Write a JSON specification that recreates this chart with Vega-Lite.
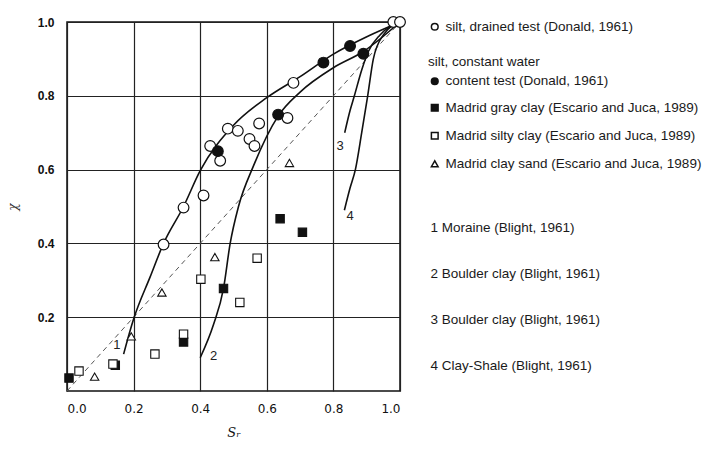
{
  "$schema": "https://vega.github.io/schema/vega-lite/v6.json",
  "autosize": {"type": "none"},
  "padding": {"left": 67, "top": 22, "right": 306, "bottom": 59},
  "width": 333,
  "height": 369,
  "background": "white",
  "config": {
    "view": {"stroke": "#111", "strokeWidth": 1.5},
    "axis": {"grid": true, "gridColor": "#222", "gridWidth": 1.2, "gridOpacity": 1, "domain": false, "ticks": false},
    "legend": {"title": null, "labelFont": "Liberation Sans", "labelFontSize": 13.5, "labelColor": "#1a1a1a", "labelLimit": 400, "symbolSize": 45}
  },
  "datasets": {
    "drained": [
      {"x": 0.98, "y": 1.0, "series": "silt, drained test (Donald, 1961)"},
      {"x": 1.0, "y": 1.0, "series": "silt, drained test (Donald, 1961)"},
      {"x": 0.68, "y": 0.835, "series": "silt, drained test (Donald, 1961)"},
      {"x": 0.662, "y": 0.74, "series": "silt, drained test (Donald, 1961)"},
      {"x": 0.577, "y": 0.725, "series": "silt, drained test (Donald, 1961)"},
      {"x": 0.483, "y": 0.711, "series": "silt, drained test (Donald, 1961)"},
      {"x": 0.513, "y": 0.705, "series": "silt, drained test (Donald, 1961)"},
      {"x": 0.43, "y": 0.664, "series": "silt, drained test (Donald, 1961)"},
      {"x": 0.46, "y": 0.624, "series": "silt, drained test (Donald, 1961)"},
      {"x": 0.548, "y": 0.683, "series": "silt, drained test (Donald, 1961)"},
      {"x": 0.563, "y": 0.664, "series": "silt, drained test (Donald, 1961)"},
      {"x": 0.41, "y": 0.53, "series": "silt, drained test (Donald, 1961)"},
      {"x": 0.35, "y": 0.497, "series": "silt, drained test (Donald, 1961)"},
      {"x": 0.29, "y": 0.397, "series": "silt, drained test (Donald, 1961)"}
    ],
    "constant": [
      {"x": 0.85, "y": 0.935, "series": "content test (Donald, 1961)"},
      {"x": 0.89, "y": 0.914, "series": "content test (Donald, 1961)"},
      {"x": 0.77, "y": 0.89, "series": "content test (Donald, 1961)"},
      {"x": 0.634, "y": 0.749, "series": "content test (Donald, 1961)"},
      {"x": 0.453, "y": 0.65, "series": "content test (Donald, 1961)"}
    ],
    "madrid": [
      {"x": 0.64, "y": 0.467, "series": "Madrid gray clay (Escario and Juca, 1989)"},
      {"x": 0.707, "y": 0.43, "series": "Madrid gray clay (Escario and Juca, 1989)"},
      {"x": 0.47, "y": 0.278, "series": "Madrid gray clay (Escario and Juca, 1989)"},
      {"x": 0.35, "y": 0.133, "series": "Madrid gray clay (Escario and Juca, 1989)"},
      {"x": 0.145, "y": 0.07, "series": "Madrid gray clay (Escario and Juca, 1989)"},
      {"x": 0.006, "y": 0.035, "series": "Madrid gray clay (Escario and Juca, 1989)"},
      {"x": 0.571, "y": 0.36, "series": "Madrid silty clay (Escario and Juca, 1989)"},
      {"x": 0.402, "y": 0.303, "series": "Madrid silty clay (Escario and Juca, 1989)"},
      {"x": 0.519, "y": 0.24, "series": "Madrid silty clay (Escario and Juca, 1989)"},
      {"x": 0.35, "y": 0.154, "series": "Madrid silty clay (Escario and Juca, 1989)"},
      {"x": 0.264, "y": 0.1, "series": "Madrid silty clay (Escario and Juca, 1989)"},
      {"x": 0.138, "y": 0.073, "series": "Madrid silty clay (Escario and Juca, 1989)"},
      {"x": 0.036, "y": 0.054, "series": "Madrid silty clay (Escario and Juca, 1989)"},
      {"x": 0.668, "y": 0.618, "series": "Madrid clay sand (Escario and Juca, 1989)"},
      {"x": 0.444, "y": 0.363, "series": "Madrid clay sand (Escario and Juca, 1989)"},
      {"x": 0.285, "y": 0.267, "series": "Madrid clay sand (Escario and Juca, 1989)"},
      {"x": 0.193, "y": 0.148, "series": "Madrid clay sand (Escario and Juca, 1989)"},
      {"x": 0.083, "y": 0.039, "series": "Madrid clay sand (Escario and Juca, 1989)"}
    ],
    "curves": [
      {"curve": "1 Moraine (Blight, 1961)", "x": 0.17, "y": 0.1},
      {"curve": "1 Moraine (Blight, 1961)", "x": 0.2, "y": 0.195},
      {"curve": "1 Moraine (Blight, 1961)", "x": 0.25, "y": 0.31},
      {"curve": "1 Moraine (Blight, 1961)", "x": 0.29, "y": 0.4},
      {"curve": "1 Moraine (Blight, 1961)", "x": 0.35, "y": 0.5},
      {"curve": "1 Moraine (Blight, 1961)", "x": 0.4, "y": 0.597},
      {"curve": "1 Moraine (Blight, 1961)", "x": 0.5, "y": 0.72},
      {"curve": "1 Moraine (Blight, 1961)", "x": 0.6, "y": 0.795},
      {"curve": "1 Moraine (Blight, 1961)", "x": 0.7, "y": 0.852},
      {"curve": "1 Moraine (Blight, 1961)", "x": 0.8, "y": 0.913},
      {"curve": "1 Moraine (Blight, 1961)", "x": 0.905, "y": 0.962},
      {"curve": "1 Moraine (Blight, 1961)", "x": 1.0, "y": 1.0},
      {"curve": "2 Boulder clay (Blight, 1961)", "x": 0.4, "y": 0.09},
      {"curve": "2 Boulder clay (Blight, 1961)", "x": 0.44, "y": 0.18},
      {"curve": "2 Boulder clay (Blight, 1961)", "x": 0.47, "y": 0.278},
      {"curve": "2 Boulder clay (Blight, 1961)", "x": 0.49, "y": 0.4},
      {"curve": "2 Boulder clay (Blight, 1961)", "x": 0.515, "y": 0.5},
      {"curve": "2 Boulder clay (Blight, 1961)", "x": 0.56, "y": 0.61},
      {"curve": "2 Boulder clay (Blight, 1961)", "x": 0.634, "y": 0.745},
      {"curve": "2 Boulder clay (Blight, 1961)", "x": 0.7, "y": 0.81},
      {"curve": "2 Boulder clay (Blight, 1961)", "x": 0.8, "y": 0.876},
      {"curve": "2 Boulder clay (Blight, 1961)", "x": 0.89, "y": 0.92},
      {"curve": "2 Boulder clay (Blight, 1961)", "x": 1.0, "y": 1.0},
      {"curve": "3 Boulder clay (Blight, 1961)", "x": 0.834, "y": 0.7},
      {"curve": "3 Boulder clay (Blight, 1961)", "x": 0.85, "y": 0.76},
      {"curve": "3 Boulder clay (Blight, 1961)", "x": 0.863, "y": 0.8},
      {"curve": "3 Boulder clay (Blight, 1961)", "x": 0.885, "y": 0.87},
      {"curve": "3 Boulder clay (Blight, 1961)", "x": 0.905, "y": 0.92},
      {"curve": "3 Boulder clay (Blight, 1961)", "x": 0.94, "y": 0.965},
      {"curve": "3 Boulder clay (Blight, 1961)", "x": 1.0, "y": 1.0},
      {"curve": "4 Clay-Shale (Blight, 1961)", "x": 0.833, "y": 0.49},
      {"curve": "4 Clay-Shale (Blight, 1961)", "x": 0.85, "y": 0.55},
      {"curve": "4 Clay-Shale (Blight, 1961)", "x": 0.866, "y": 0.6},
      {"curve": "4 Clay-Shale (Blight, 1961)", "x": 0.885, "y": 0.7},
      {"curve": "4 Clay-Shale (Blight, 1961)", "x": 0.903, "y": 0.8},
      {"curve": "4 Clay-Shale (Blight, 1961)", "x": 0.92, "y": 0.9},
      {"curve": "4 Clay-Shale (Blight, 1961)", "x": 0.95, "y": 0.965},
      {"curve": "4 Clay-Shale (Blight, 1961)", "x": 1.0, "y": 1.0}
    ],
    "curveLabels": [
      {"x": 0.15, "y": 0.125, "t": "1"},
      {"x": 0.44, "y": 0.095, "t": "2"},
      {"x": 0.82, "y": 0.663, "t": "3"},
      {"x": 0.85, "y": 0.475, "t": "4"}
    ],
    "diag": [
      {"x": 0, "y": 0},
      {"x": 1, "y": 1}
    ]
  },
  "encoding": {
    "x": {
      "field": "x", "type": "quantitative",
      "scale": {"domain": [0, 1], "nice": false},
      "axis": {"values": [0, 0.2, 0.4, 0.6, 0.8, 1.0], "format": ".1f", "labelPadding": 12, "labelFont": "DejaVu Sans", "labelFontSize": 12, "labelColor": "#111",
        "title": "Sᵣ", "titleFont": "DejaVu Serif", "titleFontStyle": "italic", "titleFontWeight": "normal", "titleFontSize": 13, "titlePadding": 12, "titleColor": "#111"}
    },
    "y": {
      "field": "y", "type": "quantitative",
      "scale": {"domain": [0, 1], "nice": false},
      "axis": {"values": [0.2, 0.4, 0.6, 0.8, 1.0], "format": ".1f", "labelPadding": 13, "labelFont": "Liberation Sans", "labelFontSize": 12, "labelFontWeight": "bold", "labelColor": "#111",
        "title": "χ", "titleFont": "DejaVu Serif", "titleFontStyle": "italic", "titleFontWeight": "normal", "titleFontSize": 12, "titlePadding": 18, "titleColor": "#333"}
    }
  },
  "layer": [
    {
      "data": {"name": "diag"},
      "mark": {"type": "line", "color": "#555", "strokeWidth": 1, "strokeDash": [5, 4]},
      "encoding": {}
    },
    {
      "data": {"name": "curves"},
      "mark": {"type": "line", "interpolate": "monotone", "strokeWidth": 1.6},
      "encoding": {
        "color": {
          "field": "curve", "type": "nominal",
          "scale": {"domain": ["1 Moraine (Blight, 1961)", "2 Boulder clay (Blight, 1961)", "3 Boulder clay (Blight, 1961)", "4 Clay-Shale (Blight, 1961)"], "range": ["#111", "#111", "#111", "#111"]},
          "legend": {"orient": "none", "legendX": 350, "legendY": 199, "symbolOpacity": 0, "symbolSize": 1, "labelOffset": 0, "rowPadding": 31}
        }
      }
    },
    {
      "data": {"name": "curveLabels"},
      "mark": {"type": "text", "font": "Liberation Sans", "fontSize": 13, "color": "#222"},
      "encoding": {"text": {"field": "t"}}
    },
    {
      "data": {"name": "drained"},
      "mark": {"type": "point", "filled": true, "fill": "white", "stroke": "#111", "strokeWidth": 1.2, "size": 115, "opacity": 1},
      "encoding": {
        "shape": {
          "field": "series", "type": "nominal",
          "scale": {"range": ["circle"]},
          "legend": {"orient": "none", "legendX": 361, "legendY": -2,
            "encode": {"symbols": {"update": {"fill": {"value": "white"}, "stroke": {"value": "#111"}, "strokeWidth": {"value": 1}}}}}
        }
      }
    },
    {
      "data": {"name": "constant"},
      "mark": {"type": "point", "filled": true, "fill": "#111", "stroke": "#111", "strokeWidth": 1.2, "size": 115, "opacity": 1},
      "encoding": {
        "shape": {
          "field": "series", "type": "nominal",
          "scale": {"range": ["circle"]},
          "legend": {"orient": "none", "legendX": 361, "legendY": 33,
            "title": "\u00a0\u00a0\u00a0\u00a0silt, constant water", "titleFont": "Liberation Sans", "titleFontSize": 13.5, "titleFontWeight": "normal", "titleColor": "#1a1a1a", "titlePadding": 6,
            "encode": {"symbols": {"update": {"fill": {"value": "#111"}, "stroke": {"value": "#111"}, "strokeWidth": {"value": 1}}}}}
        }
      }
    },
    {
      "data": {"name": "madrid"},
      "mark": {"type": "point", "filled": true, "stroke": "#111", "strokeWidth": 1.1, "size": 70, "opacity": 1},
      "encoding": {
        "shape": {
          "field": "series", "type": "nominal",
          "scale": {"domain": ["Madrid gray clay (Escario and Juca, 1989)", "Madrid silty clay (Escario and Juca, 1989)", "Madrid clay sand (Escario and Juca, 1989)"], "range": ["square", "square", "triangle-up"]},
          "legend": {"orient": "none", "legendX": 361, "legendY": 79, "rowPadding": 13,
            "encode": {"symbols": {"update": {"stroke": {"value": "#111"}, "strokeWidth": {"value": 1}}}}}
        },
        "fill": {
          "field": "series", "type": "nominal",
          "scale": {"domain": ["Madrid gray clay (Escario and Juca, 1989)", "Madrid silty clay (Escario and Juca, 1989)", "Madrid clay sand (Escario and Juca, 1989)"], "range": ["#111", "white", "white"]},
          "legend": {"orient": "none", "legendX": 361, "legendY": 79, "rowPadding": 13,
            "encode": {"symbols": {"update": {"stroke": {"value": "#111"}, "strokeWidth": {"value": 1}}}}}
        }
      }
    }
  ],
  "resolve": {"scale": {"shape": "independent", "fill": "independent", "color": "independent"}}
}
